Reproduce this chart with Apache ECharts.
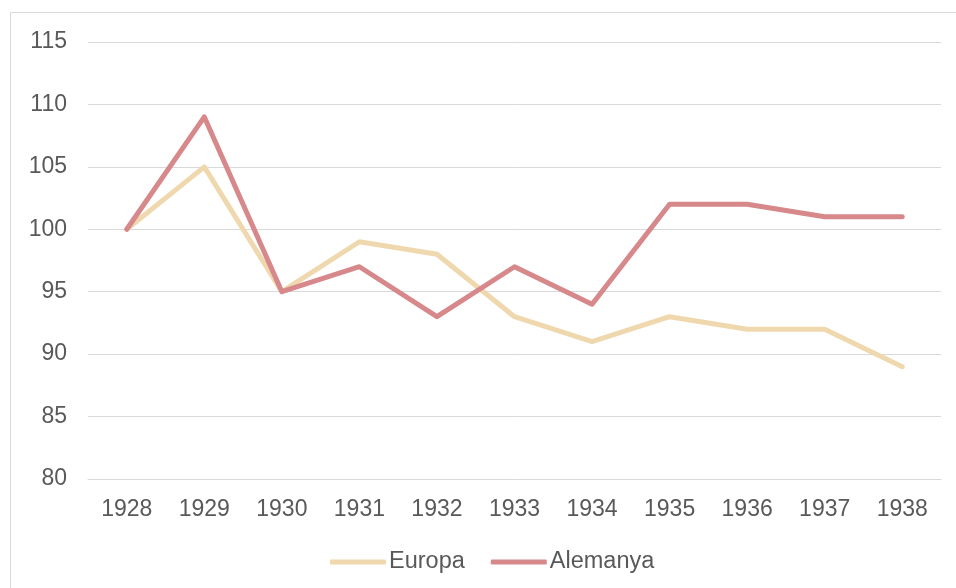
<!DOCTYPE html>
<html>
<head>
<meta charset="utf-8">
<script src="https://cdn.jsdelivr.net/npm/echarts@6/dist/echarts.min.js"></script>
<style>
  html, body { margin: 0; padding: 0; background: #fff; }
  #chart { width: 956px; height: 588px; }
</style>
</head>
<body>
<div id="chart"></div>
<script>
const years = ['1928', '1929', '1930', '1931', '1932', '1933', '1934', '1935', '1936', '1937', '1938']
const europa = [100, 105, 95, 99, 98, 93, 91, 93, 92, 92, 89]
const alemanya = [100, 109, 95, 97, 93, 97, 94, 102, 102, 101, 101]

const font = '"Liberation Sans", Arial, sans-serif'
const textColor = '#595959'

const chart = echarts.init(document.getElementById('chart'))

chart.setOption({
  animation: false,
  backgroundColor: '#fff',
  textStyle: { fontFamily: font },
  graphic: [
    {
      type: 'rect',
      silent: true,
      shape: { x: 10.5, y: 12.5, width: 1200, height: 1200 },
      style: { fill: 'none', stroke: '#d9d9d9', lineWidth: 1 }
    }
  ],
  legend: {
    data: ['Europa', 'Alemanya'],
    top: 545,
    left: 325,
    itemWidth: 56,
    itemHeight: 5,
    itemGap: 26,
    icon: 'roundRect',
    textStyle: { color: textColor, fontSize: 23.5, fontFamily: font, padding: [0, 0, 0, -2] }
  },
  grid: {
    left: 88,
    right: 15,
    top: 42,
    bottom: 109,
    containLabel: false
  },
  xAxis: {
    type: 'category',
    data: years,
    boundaryGap: true,
    axisLine: { lineStyle: { color: '#d9d9d9', width: 1 } },
    axisTick: { show: false },
    axisLabel: { color: textColor, fontSize: 23, fontFamily: font, margin: 19 }
  },
  yAxis: {
    type: 'value',
    min: 80,
    max: 115,
    interval: 5,
    axisLine: { show: false },
    axisTick: { show: false },
    axisLabel: { color: textColor, fontSize: 23, fontFamily: font, margin: 21 },
    splitLine: { lineStyle: { color: '#d9d9d9', width: 1 } }
  },
  series: [
    {
      name: 'Europa',
      type: 'line',
      data: europa,
      symbol: 'none',
      lineStyle: { color: '#efd8ad', width: 5, cap: 'round', join: 'round' },
      itemStyle: { color: '#efd8ad' }
    },
    {
      name: 'Alemanya',
      type: 'line',
      data: alemanya,
      symbol: 'none',
      lineStyle: { color: '#d7888a', width: 5, cap: 'round', join: 'round' },
      itemStyle: { color: '#d7888a' }
    }
  ]
})
</script>
</body>
</html>
